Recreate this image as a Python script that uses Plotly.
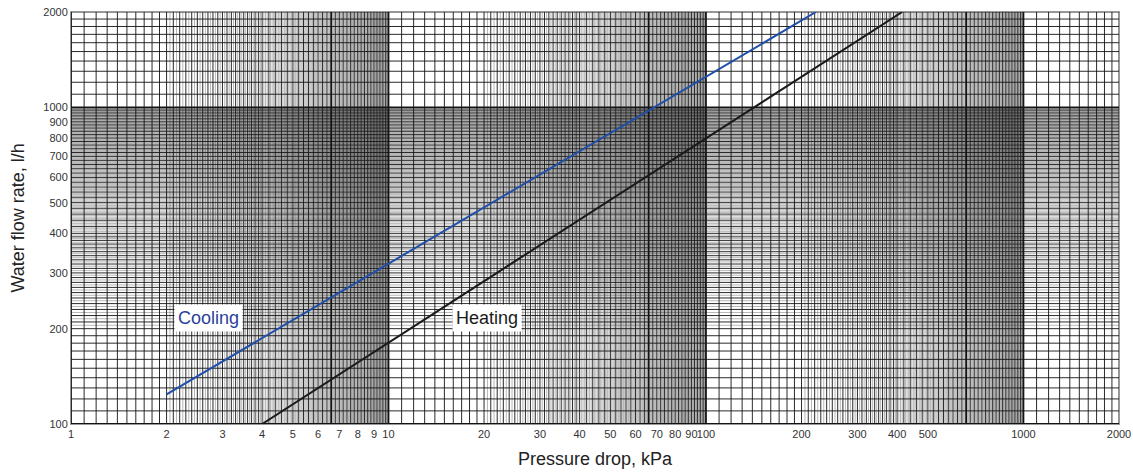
import numpy as np
import plotly.graph_objects as go

# ---- data ----
COOLING_DP = [2.0, 222.0]        # kPa
COOLING_FLOW = [124.0, 2000.0]   # l/h
HEATING_DP = [4.0, 415.0]
HEATING_FLOW = [100.0, 2000.0]

X_TICKS = [1, 2, 3, 4, 5, 6, 7, 8, 9, 10, 20, 30, 40, 50, 60, 70, 80, 90, 100,
           200, 300, 400, 500, 1000, 2000]
Y_TICKS = [100, 200, 300, 400, 500, 600, 700, 800, 900, 1000, 2000]

X_RANGE = [1, 2000]
Y_RANGE = [100, 2000]

# log-paper subdivision of one decade: (start, end, major step, minor step)
DECADE_SEGMENTS = [(1.0, 2.0, 0.1, 0.1), (2.0, 4.0, 0.1, 0.05), (4.0, 6.6, 0.2, 0.05),
                   (6.6, 10.0, 0.2, 0.05)]
HEAVY_X = [1.0, 6.6]
HEAVY_Y = [1.0]

FONT = "Liberation Sans, Arial, sans-serif"


def grid_values(lo, hi, heavy_m):
    major, minor, heavy = [], [], []
    dec = 10 ** np.floor(np.log10(lo))
    while dec < hi * 1.0001:
        for a, b, ms, ns in DECADE_SEGMENTS:
            n = int(round((b - a) / ns))
            for i in range(n):
                m = a + i * ns
                v = m * dec
                if v < lo * 0.9999 or v > hi * 1.0001:
                    continue
                if any(abs(m - h) < 1e-6 for h in heavy_m):
                    heavy.append(v)
                elif abs((m - a) / ms - round((m - a) / ms)) < 1e-6:
                    major.append(v)
                else:
                    minor.append(v)
        dec *= 10
    if hi not in heavy and hi not in major:
        major.append(hi)
    return major, minor, heavy


def segs(vals, lo, hi):
    a, b = [], []
    for v in vals:
        a += [v, v, None]
        b += [lo, hi, None]
    return a, b


fig = go.Figure()

xmaj, xmin, xheavy = grid_values(*X_RANGE, HEAVY_X)
ymaj, ymin, yheavy = grid_values(*Y_RANGE, HEAVY_Y)

styles = [
    (xmin, ymin, "rgba(40,40,40,0.42)", 0.8),
    (xmaj, ymaj, "rgba(20,20,20,0.9)", 1.0),
    (xheavy, yheavy, "rgba(20,20,20,1)", 1.8),
]
for xv, yv, col, w in styles:
    gx, gy = segs(xv, *Y_RANGE)
    fig.add_trace(go.Scatter(x=gx, y=gy, mode="lines", line=dict(color=col, width=w),
                             hoverinfo="skip", showlegend=False))
    hy, hx = segs(yv, *X_RANGE)
    fig.add_trace(go.Scatter(x=hx, y=hy, mode="lines", line=dict(color=col, width=w),
                             hoverinfo="skip", showlegend=False))

fig.add_trace(go.Scatter(x=COOLING_DP, y=COOLING_FLOW, mode="lines", name="Cooling",
                         line=dict(color="#1f4fa8", width=2), showlegend=False))
fig.add_trace(go.Scatter(x=HEATING_DP, y=HEATING_FLOW, mode="lines", name="Heating",
                         line=dict(color="#1a1a1a", width=2), showlegend=False))

fig.add_annotation(x=np.log10(2.72), y=np.log10(216), text="Cooling", showarrow=False,
                   font=dict(family=FONT, size=18, color="#2b3f9c"),
                   bgcolor="white", borderpad=3)
fig.add_annotation(x=np.log10(20.4), y=np.log10(216), text="Heating", showarrow=False,
                   font=dict(family=FONT, size=18, color="#1a1a1a"),
                   bgcolor="white", borderpad=3)

# axis titles
fig.add_annotation(xref="paper", yref="paper", x=0.5, y=-0.085, text="Pressure drop, kPa",
                   showarrow=False, yanchor="middle",
                   font=dict(family=FONT, size=18, color="#222"))
fig.add_annotation(xref="paper", yref="paper", x=-0.051, y=0.5, text="Water flow rate, l/h",
                   showarrow=False, textangle=-90, xanchor="center", yanchor="middle",
                   font=dict(family=FONT, size=18, color="#222"))

fig.update_xaxes(type="log", range=[np.log10(X_RANGE[0]) - 1e-6, np.log10(X_RANGE[1]) + 1e-6],
                 tickvals=X_TICKS, ticktext=[str(t) for t in X_TICKS], tickangle=0,
                 showgrid=False, zeroline=False, ticks="", ticklen=0, automargin=False,
                 showline=True, mirror=True, linecolor="#999", linewidth=1,
                 tickfont=dict(family=FONT, size=11, color="#333"))
fig.update_yaxes(type="log", range=[np.log10(Y_RANGE[0]) - 1e-6, np.log10(Y_RANGE[1]) + 1e-6],
                 tickvals=Y_TICKS, ticktext=[str(t) for t in Y_TICKS],
                 showgrid=False, zeroline=False, ticks="", ticklen=0, automargin=False,
                 showline=True, mirror=True, linecolor="#999", linewidth=1,
                 tickfont=dict(family=FONT, size=11, color="#333"))

fig.update_layout(width=1133, height=475, margin=dict(l=71, r=14, t=12, b=51),
                  paper_bgcolor="white", plot_bgcolor="white")

# remove the default 8px page margin so the figure fills the window exactly
fig.write_html("out.html", config={"displayModeBar": False},
               post_script="document.body.style.margin='0';")
